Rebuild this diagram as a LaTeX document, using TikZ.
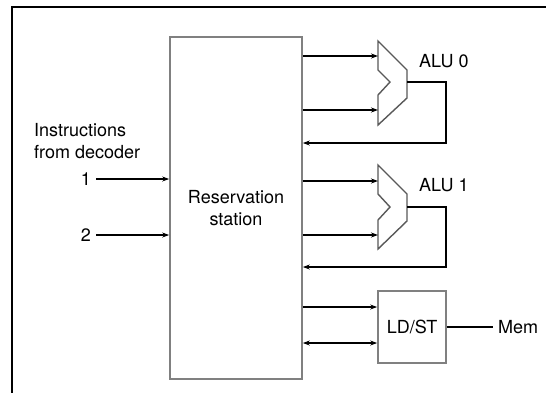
\documentclass[tikz,border=0pt]{standalone}
\usepackage{fontspec}
\setmainfont{TeX Gyre Heros}
\usetikzlibrary{arrows.meta}
\begin{document}
\begin{tikzpicture}[x=1pt,y=-1pt,
  every node/.style={font=\fontsize{18}{22}\selectfont, inner sep=0pt},
  conn/.style={draw=black, line width=1.2pt, -{Stealth[length=7pt,width=5pt]}},
  bconn/.style={draw=black, line width=1.2pt, {Stealth[length=7pt,width=5pt]}-{Stealth[length=7pt,width=5pt]}},
  wire/.style={draw=black, line width=1.2pt},
  graybox/.style={draw=black!50, line width=1.7pt},
  alushape/.style={draw=black!65, line width=1.4pt, line join=miter}
]
\clip (0,0) rectangle (546,392);
\useasboundingbox (0,0) rectangle (546,392);
\fill[white] (0,0) rectangle (546,392);
% outer frame
\draw[line width=1.6pt] (12,7) rectangle (600,450);

% reservation station
\node[graybox, minimum width=132pt, minimum height=342pt, align=center] (rs) at (236,208) {Reservation\\station};

% left inputs
\node[anchor=west, align=left] (instr) at (34,141) {Instructions\\from decoder};
\node (one) at (86,179) {1};
\node (two) at (86,235) {2};
\draw[conn] ([xshift=5pt]one.east) -- (rs.west |- one);
\draw[conn] ([xshift=5pt]two.east) -- (rs.west |- two);

% ALU 0
\coordinate (a0in1) at (378,56);
\coordinate (a0in2) at (378,110);
\coordinate (a0out) at (407,82);
\coordinate (a0fb) at (446,143);
\draw[alushape] (378,41) -- (407,70) -- (407,98) -- (378,125) -- (378,95) -- (390,82) -- (378,70) -- cycle;
\node[anchor=west] (alu0lbl) at (419,61) {ALU 0};
\draw[conn] (rs.east |- a0in1) -- (a0in1);
\draw[conn] (rs.east |- a0in2) -- (a0in2);
\draw[conn] (a0out) -- (a0out -| a0fb) -- (a0fb) -- (rs.east |- a0fb);

% ALU 1
\coordinate (a1in1) at (378,181);
\coordinate (a1in2) at (378,235);
\coordinate (a1out) at (407,207);
\coordinate (a1fb) at (446,267);
\draw[alushape] (378,165) -- (407,194) -- (407,221) -- (378,249) -- (378,220) -- (390,207) -- (378,194) -- cycle;
\node[anchor=west] (alu1lbl) at (419,185) {ALU 1};
\draw[conn] (rs.east |- a1in1) -- (a1in1);
\draw[conn] (rs.east |- a1in2) -- (a1in2);
\draw[conn] (a1out) -- (a1out -| a1fb) -- (a1fb) -- (rs.east |- a1fb);

% LD/ST
\node[graybox, minimum width=68pt, minimum height=72pt] (ldst) at (412,327) {LD/ST};
\coordinate (ld1) at (378,307);
\coordinate (ld2) at (378,343);
\draw[conn] (rs.east |- ld1) -- (ldst.west |- ld1);
\draw[bconn] (rs.east |- ld2) -- (ldst.west |- ld2);
\node[anchor=west] (mem) at (498,327) {Mem};
\draw[wire] (ldst.east) -- ([xshift=-5pt]mem.west);
\end{tikzpicture}
\end{document}
